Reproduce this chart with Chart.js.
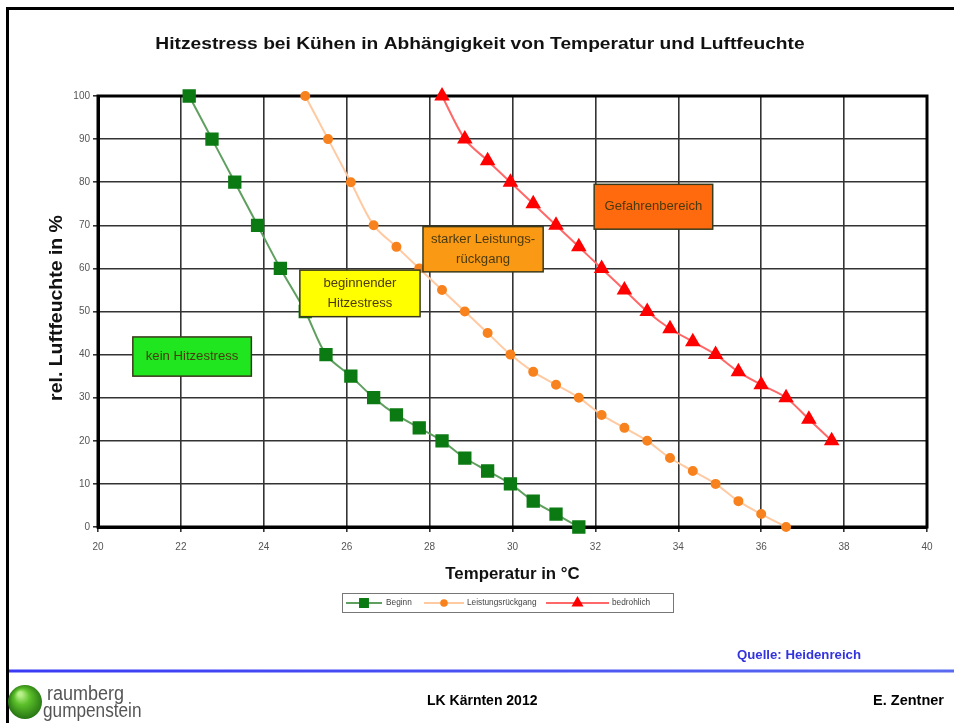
<!DOCTYPE html>
<html>
<head>
<meta charset="utf-8">
<script src="https://cdn.jsdelivr.net/npm/chart.js@4.4.1/dist/chart.umd.min.js"></script>
<style>
  html, body { margin: 0; padding: 0; background: #fff; }
  canvas { display: block; }
</style>
</head>
<body>
<canvas id="heatChart" width="954" height="723" style="width:954px;height:723px"></canvas>
<script>
// Werte
const seriesNames = ['Beginn', 'Leistungsrückgang', 'bedrohlich'];

const beginnTemp = [22.2, 22.75, 23.3, 23.85, 24.4, 25.0, 25.5, 26.1, 26.65, 27.2, 27.75, 28.3, 28.85, 29.4, 29.95, 30.5, 31.05, 31.6];
const beginnRH   = [100, 90, 80, 70, 60, 50, 40, 35, 30, 26, 23, 20, 16, 13, 10, 6, 3, 0];

const leistTemp = [25.0, 25.55, 26.1, 26.65, 27.2, 27.75, 28.3, 28.85, 29.4, 29.95, 30.5, 31.05, 31.6, 32.15, 32.7, 33.25, 33.8, 34.35, 34.9, 35.45, 36.0, 36.6];
const leistRH   = [100, 90, 80, 70, 65, 60, 55, 50, 45, 40, 36, 33, 30, 26, 23, 20, 16, 13, 10, 6, 3, 0];

const bedrTemp = [28.3, 28.85, 29.4, 29.95, 30.5, 31.05, 31.6, 32.15, 32.7, 33.25, 33.8, 34.35, 34.9, 35.45, 36.0, 36.6, 37.15, 37.7];
const bedrRH   = [100, 90, 85, 80, 75, 70, 65, 60, 55, 50, 46, 43, 40, 36, 33, 30, 25, 20];

const xTicks = [20, 22, 24, 26, 28, 30, 32, 34, 36, 38, 40];
const yTicks = [0, 10, 20, 30, 40, 50, 60, 70, 80, 90, 100];

const chartTitle = 'Hitzestress bei Kühen in Abhängigkeit von Temperatur und Luftfeuchte';
const xTitle = 'Temperatur in °C';
const yTitle = 'rel. Luftfeuchte in %';

// Textfelder im Diagramm (Lage in Datenkoordinaten)
const zones = [
  { lines: ['kein Hitzestress'], x0: 20.84, x1: 23.7, y0: 44.1, y1: 35.0, color: '#1fe61f' },
  { lines: ['beginnender', 'Hitzestress'], x0: 24.87, x1: 27.77, y0: 59.6, y1: 48.8, color: '#ffff00' },
  { lines: ['starker Leistungs-', 'rückgang'], x0: 27.84, x1: 30.74, y0: 69.7, y1: 59.2, color: '#fa9a14' },
  { lines: ['Gefahrenbereich'], x0: 31.97, x1: 34.83, y0: 79.5, y1: 69.1, color: '#ff6a0e' }
];

function pairs(xs, ys) {
  return xs.map((x, i) => ({ x: x, y: ys[i] }));
}

const FONT = '"Liberation Sans", Arial, sans-serif';

// Text mit horizontaler Streckung zeichnen
function drawText(ctx, text, x, y, font, color, align, sx) {
  ctx.save();
  ctx.translate(x, y);
  ctx.scale(sx || 1, 1);
  ctx.font = font;
  ctx.fillStyle = color;
  ctx.textAlign = align || 'left';
  ctx.textBaseline = 'middle';
  ctx.fillText(text, 0, 0);
  ctx.restore();
}

// Rahmen, Titel, Textfelder, Legende und Fußzeile
const pagePlugin = {
  id: 'page',
  beforeDraw(chart) {
    const ctx = chart.ctx;
    ctx.save();
    ctx.fillStyle = '#fff';
    ctx.fillRect(0, 0, chart.width, chart.height);
    ctx.restore();
  },
  beforeDatasetsDraw(chart) {
    const ctx = chart.ctx;
    const a = chart.chartArea;
    ctx.save();
    ctx.strokeStyle = '#000';
    ctx.lineWidth = 3;
    ctx.strokeRect(a.left, a.top, a.right - a.left, a.bottom - a.top);
    ctx.restore();
  },
  afterDatasetsDraw(chart) {
    const ctx = chart.ctx;
    const xs = chart.scales.x, ys = chart.scales.y;
    ctx.save();
    zones.forEach(z => {
      const l = xs.getPixelForValue(z.x0), r = xs.getPixelForValue(z.x1);
      const t = ys.getPixelForValue(z.y0), b = ys.getPixelForValue(z.y1);
      ctx.fillStyle = z.color;
      ctx.fillRect(l, t, r - l, b - t);
      ctx.strokeStyle = '#3a3a1a';
      ctx.lineWidth = 1.5;
      ctx.strokeRect(l, t, r - l, b - t);
      const cx = (l + r) / 2, cy = (t + b) / 2;
      const lh = 20;
      z.lines.forEach((s, i) => {
        drawText(ctx, s, cx, cy + (i - (z.lines.length - 1) / 2) * lh, '12.5px ' + FONT, '#4a3a10', 'center', 1.05);
      });
    });
    ctx.restore();
  },
  afterDraw(chart) {
    const ctx = chart.ctx;
    const a = chart.chartArea;
    ctx.save();

    // Titel
    drawText(ctx, chartTitle, 480, 45, 'bold 16px ' + FONT, '#111', 'center', 1.2);
    drawText(ctx, xTitle, (a.left + a.right) / 2, 575, 'bold 16px ' + FONT, '#111', 'center', 1.05);
    ctx.save();
    ctx.translate(57, 308);
    ctx.rotate(-Math.PI / 2);
    drawText(ctx, yTitle, 0, 0, 'bold 18px ' + FONT, '#111', 'center', 1.08);
    ctx.restore();

    // Legende
    const lx = 342, ly = 593, lw = 331, lh = 19;
    ctx.strokeStyle = '#777';
    ctx.lineWidth = 1;
    ctx.strokeRect(lx + 0.5, ly + 0.5, lw, lh);
    const items = [{ x0: 346, x1: 382, tx: 386 }, { x0: 424, x1: 464, tx: 467 }, { x0: 546, x1: 609, tx: 612 }];
    chart.data.datasets.forEach((ds, i) => {
      const it = items[i];
      const cy = ly + lh / 2 + 0.5;
      ctx.strokeStyle = ds.borderColor;
      ctx.lineWidth = 2;
      ctx.beginPath();
      ctx.moveTo(it.x0, cy);
      ctx.lineTo(it.x1, cy);
      ctx.stroke();
      ctx.fillStyle = ds.pointBackgroundColor;
      ctx.strokeStyle = ds.pointBorderColor;
      Chart.helpers.drawPoint(ctx, { pointStyle: ds.pointStyle, radius: ds.pointRadius * 0.7, rotation: 0, borderWidth: 1 }, (it.x0 + it.x1) / 2, cy);
      drawText(ctx, ds.label, it.tx, cy, '9px ' + FONT, '#444', 'left', 0.92);
    });

    // Seitenrahmen
    ctx.strokeStyle = '#000';
    ctx.lineWidth = 3;
    ctx.beginPath();
    ctx.moveTo(7.5, 723);
    ctx.lineTo(7.5, 8.5);
    ctx.lineTo(954, 8.5);
    ctx.stroke();

    // Blaue Linie
    const grad = ctx.createLinearGradient(8, 0, 954, 0);
    grad.addColorStop(0, '#3a3af5');
    grad.addColorStop(1, '#5a6af0');
    ctx.strokeStyle = grad;
    ctx.lineWidth = 3;
    ctx.beginPath();
    ctx.moveTo(9, 671);
    ctx.lineTo(954, 671);
    ctx.stroke();

    drawText(ctx, 'Quelle: Heidenreich', 737, 656, 'bold 12px ' + FONT, '#3333dd', 'left', 1.1);
    drawText(ctx, 'LK Kärnten 2012', 427, 701, 'bold 14px ' + FONT, '#000', 'left', 1);
    drawText(ctx, 'E. Zentner', 944, 701, 'bold 14.5px ' + FONT, '#000', 'right', 1);

    // Logo
    const g = ctx.createRadialGradient(20, 694, 2, 26, 702, 19);
    g.addColorStop(0, '#b8f08a');
    g.addColorStop(0.35, '#5cc02a');
    g.addColorStop(1, '#1f6a10');
    ctx.fillStyle = g;
    ctx.beginPath();
    ctx.arc(25, 702, 17, 0, Math.PI * 2);
    ctx.fill();
    drawText(ctx, 'raumberg', 47, 694, '20px ' + FONT, '#555', 'left', 0.9);
    drawText(ctx, 'gumpenstein', 43, 711, '20px ' + FONT, '#555', 'left', 0.86);

    ctx.restore();
  }
};

const ctx = document.getElementById('heatChart').getContext('2d');

window.heatChart = new Chart(ctx, {
  type: 'scatter',
  data: {
    datasets: [{
      label: seriesNames[0],
      data: pairs(beginnTemp, beginnRH),
      showLine: true,
      borderColor: '#5f9f5f',
      borderWidth: 2,
      pointStyle: 'rect',
      pointRadius: 8,
      pointBackgroundColor: '#0b7a12',
      pointBorderColor: '#0b7a12',
      tension: 0.3,
      clip: false
    }, {
      label: seriesNames[1],
      data: pairs(leistTemp, leistRH),
      showLine: true,
      borderColor: '#ffcaa2',
      borderWidth: 2,
      pointStyle: 'circle',
      pointRadius: 4,
      pointBackgroundColor: '#f7821e',
      pointBorderColor: '#f7821e',
      tension: 0.3,
      clip: false
    }, {
      label: seriesNames[2],
      data: pairs(bedrTemp, bedrRH),
      showLine: true,
      borderColor: '#ff6868',
      borderWidth: 2,
      pointStyle: 'triangle',
      pointRadius: 7,
      pointBackgroundColor: '#ff0000',
      pointBorderColor: '#ff0000',
      tension: 0.3,
      clip: false
    }]
  },
  options: {
    responsive: false,
    animation: false,
    devicePixelRatio: 1,
    layout: { padding: { left: 40, right: 27, top: 96, bottom: 136 } },
    plugins: {
      legend: { display: false },
      tooltip: { enabled: false },
      title: { display: false }
    },
    scales: {
      x: {
        type: 'linear',
        min: 20,
        max: 40,
        afterBuildTicks(scale) { scale.ticks = xTicks.map(v => ({ value: v })); },
        afterFit(scale) { scale.height = 60; },
        grid: { color: '#333', lineWidth: 1.6, tickLength: 5 },
        border: { color: '#000', width: 3 },
        ticks: { color: '#555', font: { family: FONT, size: 10 }, padding: 9 }
      },
      y: {
        type: 'linear',
        min: 0,
        max: 100,
        afterBuildTicks(scale) { scale.ticks = yTicks.map(v => ({ value: v })); },
        afterFit(scale) { scale.width = 58; },
        grid: { color: '#333', lineWidth: 1.6, tickLength: 5 },
        border: { color: '#000', width: 3 },
        ticks: { color: '#555', font: { family: FONT, size: 10 }, padding: 3 }
      }
    }
  },
  plugins: [pagePlugin]
});
</script>
</body>
</html>
